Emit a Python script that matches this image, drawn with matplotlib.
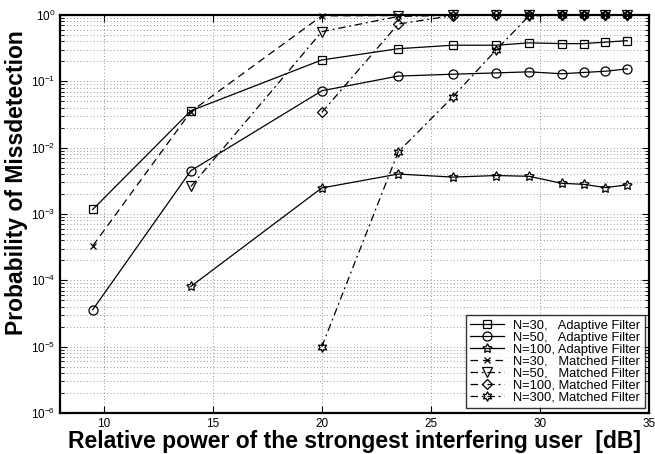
import matplotlib
matplotlib.use("Agg")
import matplotlib.pyplot as plt
from matplotlib.ticker import LogLocator, NullFormatter, FixedLocator

plt.rcParams['font.family'] = ['Liberation Sans', 'DejaVu Sans']
plt.rcParams['mathtext.default'] = 'regular'

# relative power of strongest interferer [dB]
x_full = [9.5, 14, 20, 23.5, 26, 28, 29.5, 31, 32, 33, 34]

# adaptive filter
ad_n30 = [1.17e-3, 3.6e-2, 0.21, 0.31, 0.35, 0.35, 0.38, 0.37, 0.37, 0.39, 0.41]
ad_n50 = [3.6e-5, 4.5e-3, 0.072, 0.12, 0.128, 0.134, 0.139, 0.13, 0.136, 0.142, 0.154]
x_ad100 = x_full[1:]
ad_n100 = [8.1e-5, 2.47e-3, 4.0e-3, 3.6e-3, 3.8e-3, 3.7e-3, 2.9e-3, 2.8e-3, 2.5e-3, 2.75e-3]

# matched filter
mf_n30 = [3.3e-4, 3.5e-2, 0.97, 0.98, 0.99, 0.99, 0.99, 0.99, 0.99, 0.99, 0.99]
x_mf50 = x_full[1:]
mf_n50 = [2.6e-3, 0.56, 0.95, 0.99, 0.99, 0.99, 0.99, 0.99, 0.99, 0.99]
x_mf100 = x_full[2:]
mf_n100 = [0.034, 0.73, 0.98, 0.99, 0.99, 0.99, 0.99, 0.99, 0.99]
x_mf300 = x_full[2:]
mf_n300 = [1.0e-5, 8.6e-3, 0.058, 0.30, 0.97, 0.99, 0.99, 0.99, 0.99]

labels = ["N=30,   Adaptive Filter", "N=50,   Adaptive Filter", "N=100, Adaptive Filter",
          "N=30,   Matched Filter", "N=50,   Matched Filter", "N=100, Matched Filter",
          "N=300, Matched Filter"]

fig = plt.figure(figsize=(6.55, 4.54), dpi=100)
ax = fig.add_axes([0.0916, 0.0903, 0.8994, 0.8767])

dd = (0, (6, 3, 1.5, 3))
common = dict(color='k', lw=0.9, clip_on=False)
ax.plot(x_full, ad_n30, '-', marker='s', ms=5.5, mfc='none', mew=0.9, label=labels[0], **common)
ax.plot(x_full, ad_n50, '-', marker='o', ms=6.5, mfc='none', mew=0.9, label=labels[1], **common)
ax.plot(x_ad100, ad_n100, '-', marker=(5, 1, 0), ms=7, mfc='none', mew=0.9, label=labels[2], **common)
ax.plot(x_full, mf_n30, linestyle=(0, (6, 4)), marker='x', ms=4.5, mew=0.9, label=labels[3], **common)
ax.plot(x_mf50, mf_n50, linestyle=dd, marker='v', ms=6.5, mfc='none', mew=0.9, label=labels[4], **common)
ax.plot(x_mf100, mf_n100, linestyle=dd, marker='D', ms=5, mfc='none', mew=0.9, label=labels[5], **common)
ax.plot(x_mf300, mf_n300, linestyle=dd, marker=(6, 1, 0), ms=7, mfc='none', mew=0.9, label=labels[6], **common)

ax.set_yscale('log')
ax.set_xlim(8, 35)
ax.set_ylim(1e-6, 1)
ax.xaxis.set_major_locator(FixedLocator([10, 15, 20, 25, 30, 35]))
ax.yaxis.set_major_locator(LogLocator(base=10, numticks=10))
ax.yaxis.set_minor_locator(LogLocator(base=10, subs=range(2, 10), numticks=10))
ax.yaxis.set_minor_formatter(NullFormatter())

ax.grid(True, which='major', axis='both', linestyle=(0, (1, 3)), color='0.45', lw=0.6)
ax.grid(True, which='minor', axis='y', linestyle=(0, (1, 3)), color='0.45', lw=0.6)

ax.tick_params(which='both', direction='in', top=True, right=True, labelsize=8.5)
ax.tick_params(which='major', length=5, width=0.8)
ax.tick_params(which='minor', length=3, width=0.6)
for s in ax.spines.values():
    s.set_linewidth(1.6)

ax.set_xlabel("Relative power of the strongest interfering user  [dB]",
              fontsize=16.5, fontweight='bold', labelpad=0)
ax.set_ylabel("Probability of Missdetection", fontsize=16.5, fontweight='bold')
ax.yaxis.set_label_coords(-0.055, 0.578)

leg = ax.legend(loc='lower right', fontsize=9.3, frameon=True, fancybox=False,
                edgecolor='k', handlelength=2.6, handletextpad=0.7, labelspacing=0.0,
                borderpad=0.35, borderaxespad=0.35)
leg.get_frame().set_linewidth(1.0)

fig.savefig("out.png", dpi=100)
